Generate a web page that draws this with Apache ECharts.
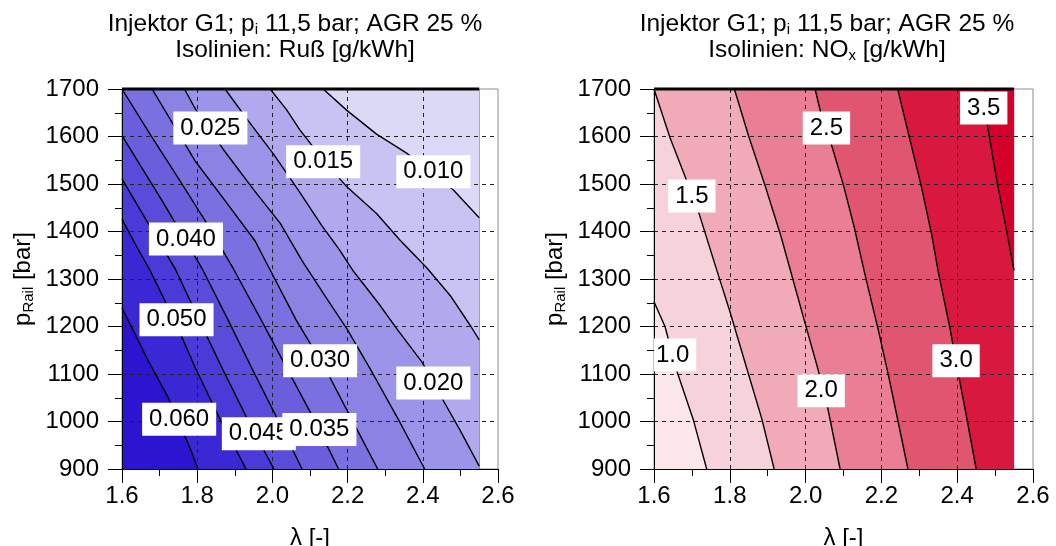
<!DOCTYPE html>
<html>
<head>
<meta charset="utf-8">
<title>Injektor G1 – Ruß und NOx Kennfeld</title>
<script src="https://cdn.jsdelivr.net/npm/echarts@6/dist/echarts.min.js"></script>
<style>
  html, body { margin: 0; padding: 0; background: #fff; }
  #chart { width: 1056px; height: 546px; }
</style>
</head>
<body>
<div id="chart"></div>
<script>
// ---------------------------------------------------------------------------
// Measured domain of the map (air ratio λ vs. rail pressure)
// ---------------------------------------------------------------------------
const LAMBDA_MIN = 1.6, LAMBDA_MAX = 2.55;
const P_MIN = 900, P_MAX = 1700;

// Axis ranges and tick spacing
const X_AXIS = { min: 1.6, max: 2.6, step: 0.2 };
const Y_AXIS = { min: 900, max: 1700, step: 100 };

// ---------------------------------------------------------------------------
// Soot (Ruß) isolines [g/kWh], each as [λ, p_Rail] points from top/left to bottom/right
// ---------------------------------------------------------------------------
const SOOT_LEVELS = [0.060, 0.050, 0.045, 0.040, 0.035, 0.030, 0.025, 0.020, 0.015, 0.010];

const RUSS_060 = [[1.600,1239],[1.635,1184],[1.669,1129],[1.722,1052],[1.757,988],[1.781,944],[1.802,900]];
const RUSS_050 = [[1.600,1426],[1.637,1371],[1.674,1319],[1.739,1214],[1.798,1108],[1.862,1003],[1.930,900]];
const RUSS_045 = [[1.600,1511],[1.672,1414],[1.743,1319],[1.805,1214],[1.869,1108],[1.935,1003],[2.004,900]];
const RUSS_040 = [[1.600,1602],[1.709,1462],[1.815,1319],[1.882,1214],[1.948,1108],[2.015,1003],[2.079,900]];
const RUSS_035 = [[1.600,1700],[1.677,1602],[1.751,1511],[1.828,1414],[1.898,1319],[1.970,1214],[2.041,1108],[2.112,1003],[2.176,900]];
const RUSS_030 = [[1.680,1700],[1.736,1626],[1.794,1549],[1.874,1465],[1.954,1380],[1.994,1319],[2.063,1214],[2.143,1108],[2.212,1003],[2.280,900]];
const RUSS_025 = [[1.766,1700],[1.795,1658],[1.872,1570],[1.952,1486],[2.021,1417],[2.080,1337],[2.146,1257],[2.199,1194],[2.262,1108],[2.336,1003],[2.405,900]];
const RUSS_020 = [[1.874,1700],[1.936,1633],[2.002,1564],[2.068,1488],[2.130,1414],[2.178,1362],[2.213,1319],[2.282,1249],[2.334,1192],[2.398,1125],[2.451,1049],[2.499,982],[2.550,906]];
const RUSS_015 = [[1.994,1700],[2.038,1656],[2.073,1614],[2.135,1551],[2.198,1494],[2.277,1438],[2.339,1382],[2.411,1323],[2.475,1263],[2.528,1200],[2.550,1172]];
const RUSS_010 = [[2.135,1700],[2.198,1655],[2.277,1605],[2.357,1565],[2.482,1487],[2.550,1429]];

const SOOT_ISOLINES = [RUSS_060, RUSS_050, RUSS_045, RUSS_040, RUSS_035, RUSS_030, RUSS_025, RUSS_020, RUSS_015, RUSS_010];

// Contour labels: [level, λ, p_Rail]
const SOOT_LABELS = [
  [0.025, 1.835, 1618], [0.015, 2.135, 1547], [0.010, 2.428, 1526],
  [0.040, 1.770, 1384], [0.050, 1.745, 1214], [0.030, 2.127, 1128],
  [0.020, 2.428, 1081], [0.060, 1.752, 1005], [0.045, 1.964, 974],
  [0.035, 2.125, 983]
];

// ---------------------------------------------------------------------------
// NOx isolines [g/kWh]
// ---------------------------------------------------------------------------
const NOX_LEVELS = [1.0, 1.5, 2.0, 2.5, 3.0, 3.5];

const NOX_10 = [[1.600,1252],[1.629,1200],[1.662,1102],[1.704,1003],[1.739,900]];
const NOX_15 = [[1.600,1700],[1.642,1598],[1.680,1520],[1.720,1435],[1.767,1315],[1.800,1232],[1.850,1098],[1.885,1004],[1.917,900]];
const NOX_20 = [[1.812,1700],[1.850,1600],[1.893,1497],[1.935,1390],[1.962,1312],[2.000,1203],[2.032,1112],[2.058,1030],[2.091,900]];
const NOX_25 = [[2.025,1700],[2.040,1650],[2.070,1578],[2.100,1497],[2.128,1410],[2.155,1315],[2.192,1192],[2.220,1092],[2.244,1000],[2.270,900]];
const NOX_30 = [[2.243,1700],[2.275,1594],[2.305,1496],[2.333,1392],[2.350,1315],[2.380,1200],[2.405,1092],[2.427,1000],[2.450,900]];
const NOX_35 = [[2.474,1700],[2.480,1622],[2.505,1505],[2.530,1403],[2.550,1318]];

const NOX_ISOLINES = [NOX_10, NOX_15, NOX_20, NOX_25, NOX_30, NOX_35];

const NOX_LABELS = [
  [2.5, 2.055, 1618], [3.5, 2.470, 1660], [1.5, 1.700, 1475],
  [1.0, 1.649, 1140], [2.0, 2.041, 1065], [3.0, 2.397, 1128]
];

// ---------------------------------------------------------------------------
// Band fills: first entry is the region below/left of the first isoline
// ---------------------------------------------------------------------------
const SOOT_FILLS = ['#2c14d0', '#3b28d5', '#4a3ad8', '#5a4cda', '#6a5edd', '#7b70e0',
                    '#8b82e4', '#9c94e8', '#b0a9ed', '#c8c3f3', '#dcd9f7'];
const NOX_FILLS = ['#fbe6ea', '#f6d3da', '#f0aab8', '#e97e94', '#e05570', '#d9183f', '#d4002b'];

const FONT = '"Liberation Sans", Arial, Helvetica, sans-serif';

// ---------------------------------------------------------------------------
// Geometry helpers: region on the upper/right side of an isoline
// ---------------------------------------------------------------------------
const CORNERS = [[LAMBDA_MIN, P_MIN], [LAMBDA_MAX, P_MIN], [LAMBDA_MAX, P_MAX], [LAMBDA_MIN, P_MAX]];
const FULL_RECT = CORNERS.slice();

// Position along the domain border, counter-clockwise from the bottom-left corner
function borderParam(pt) {
  const W = LAMBDA_MAX - LAMBDA_MIN, H = P_MAX - P_MIN;
  const [x, y] = pt;
  if (Math.abs(y - P_MIN) < 1e-6) return (x - LAMBDA_MIN) / W;
  if (Math.abs(x - LAMBDA_MAX) < 1e-6) return 1 + (y - P_MIN) / H;
  if (Math.abs(y - P_MAX) < 1e-6) return 2 + (LAMBDA_MAX - x) / W;
  return 3 + (P_MAX - y) / H;
}

function regionAfter(line) {
  const ts0 = borderParam(line[0]);
  const te = borderParam(line[line.length - 1]);
  const ts = ts0 <= te ? ts0 + 4 : ts0;
  const ring = line.slice();
  for (let c = Math.floor(te) + 1; c < ts - 1e-9; c++) ring.push(CORNERS[c % 4]);
  return ring;
}

// ---------------------------------------------------------------------------
// Series builders
// ---------------------------------------------------------------------------
function bandSeries(isolines, fills, gi) {
  return {
    type: 'custom', coordinateSystem: 'cartesian2d',
    xAxisIndex: gi, yAxisIndex: gi, clip: true, silent: true, z: 1,
    data: fills.map((c, i) => [LAMBDA_MIN, P_MIN, i]),
    renderItem(params, api) {
      const i = params.dataIndex;
      const ring = i === 0 ? FULL_RECT : regionAfter(isolines[i - 1]);
      return {
        type: 'polygon', z2: i,
        shape: { points: ring.map(p => api.coord(p)) },
        style: { fill: fills[i] }
      };
    }
  };
}

function isolineSeries(isolines, gi) {
  return isolines.map(line => ({
    type: 'line', xAxisIndex: gi, yAxisIndex: gi, data: line,
    symbol: 'none', silent: true, z: 4, animation: false,
    lineStyle: { color: '#000', width: 1.4 }
  }));
}

function borderTopSeries(gi) {
  return {
    type: 'line', xAxisIndex: gi, yAxisIndex: gi,
    data: [[LAMBDA_MIN, P_MAX], [LAMBDA_MAX, P_MAX]],
    symbol: 'none', silent: true, z: 4, clip: false,
    lineStyle: { color: '#000', width: 3 }
  };
}

function labelSeries(labels, digits, gi) {
  return {
    type: 'custom', coordinateSystem: 'cartesian2d',
    xAxisIndex: gi, yAxisIndex: gi, clip: true, silent: true, z: 5,
    data: labels.map(l => [l[1], l[2], l[0]]),
    renderItem(params, api) {
      const pt = api.coord([api.value(0), api.value(1)]);
      return {
        type: 'text', x: pt[0], y: pt[1], z2: params.dataIndex,
        style: {
          text: api.value(2).toFixed(digits),
          fontSize: 24, fontFamily: FONT, fill: '#000',
          backgroundColor: '#fff', padding: [5, 7, 4, 7],
          align: 'center', verticalAlign: 'middle'
        }
      };
    }
  };
}

function xAxis(gi) {
  return {
    type: 'value', gridIndex: gi, min: X_AXIS.min, max: X_AXIS.max, interval: X_AXIS.step, z: 3,
    name: 'λ [-]', nameLocation: 'middle', nameGap: 57,
    nameTextStyle: { fontSize: 24, fontFamily: FONT, color: '#000' },
    axisLine: { show: true, onZero: false, lineStyle: { color: '#000', width: 1 } },
    axisTick: { show: true, length: 14, lineStyle: { color: '#000', width: 1 } },
    minorTick: { show: true, splitNumber: 2, length: 7, lineStyle: { color: '#000', width: 1 } },
    axisLabel: { fontSize: 24, fontFamily: FONT, color: '#000', margin: 15,
                 formatter: v => v.toFixed(1) },
    splitLine: { show: true, showMinLine: false, showMaxLine: false,
                 lineStyle: { color: '#222', width: 1, type: [4, 4] } }
  };
}

function yAxis(gi) {
  return {
    type: 'value', gridIndex: gi, min: Y_AXIS.min, max: Y_AXIS.max, interval: Y_AXIS.step, z: 3,
    name: '{a|p}{s|Rail}{a| [bar]}', nameLocation: 'middle', nameGap: 86,
    nameTextStyle: {
      fontSize: 24, fontFamily: FONT, color: '#000',
      rich: {
        a: { fontSize: 24, fontFamily: FONT, color: '#000', lineHeight: 26 },
        s: { fontSize: 15, fontFamily: FONT, color: '#000', lineHeight: 10, verticalAlign: 'bottom' }
      }
    },
    axisLine: { show: true, onZero: false, lineStyle: { color: '#000', width: 1 } },
    axisTick: { show: true, length: 14, lineStyle: { color: '#000', width: 1 } },
    minorTick: { show: true, splitNumber: 2, length: 7, lineStyle: { color: '#000', width: 1 } },
    axisLabel: { fontSize: 24, fontFamily: FONT, color: '#000', margin: 23,
                 formatter: v => String(Math.round(v)) },
    splitLine: { show: true, showMinLine: false, showMaxLine: false,
                 lineStyle: { color: '#222', width: 1, type: [4, 4] } }
  };
}

const TITLE_RICH = {
  a: { fontSize: 24.5, fontFamily: FONT, color: '#000', lineHeight: 26 },
  s: { fontSize: 15, fontFamily: FONT, color: '#000', lineHeight: 10, verticalAlign: 'bottom' }
};

function title(text, cx) {
  return {
    text, left: cx, top: 11, textAlign: 'center', padding: 0,
    textStyle: { fontSize: 24.5, fontWeight: 'normal', fontFamily: FONT, color: '#000',
                 lineHeight: 26, rich: TITLE_RICH }
  };
}

// Plot areas are fixed in pixels; axis names may run to the page edge.
const GRID_COMMON = { show: true, borderColor: '#8c8c8c', borderWidth: 1,
                      containLabel: false, outerBoundsMode: 'none' };

const chart = echarts.init(document.getElementById('chart'), null, { renderer: 'canvas' });

chart.setOption({
  backgroundColor: '#fff',
  animation: false,
  title: [
    title('{a|Injektor G1; p}{s|i}{a| 11,5 bar; AGR 25 %}\n{a|Isolinien: Ruß [g/kWh]}', 295),
    title('{a|Injektor G1; p}{s|i}{a| 11,5 bar; AGR 25 %}\n{a|Isolinien: NO}{s|x}{a| [g/kWh]}', 827)
  ],
  grid: [
    Object.assign({ left: 122, top: 89, width: 376, height: 380 }, GRID_COMMON),
    Object.assign({ left: 654, top: 89, width: 379, height: 380 }, GRID_COMMON)
  ],
  xAxis: [xAxis(0), xAxis(1)],
  yAxis: [yAxis(0), yAxis(1)],
  series: [
    bandSeries(SOOT_ISOLINES, SOOT_FILLS, 0),
    ...isolineSeries(SOOT_ISOLINES, 0),
    borderTopSeries(0),
    labelSeries(SOOT_LABELS, 3, 0),
    bandSeries(NOX_ISOLINES, NOX_FILLS, 1),
    ...isolineSeries(NOX_ISOLINES, 1),
    borderTopSeries(1),
    labelSeries(NOX_LABELS, 1, 1)
  ]
});
</script>
</body>
</html>
